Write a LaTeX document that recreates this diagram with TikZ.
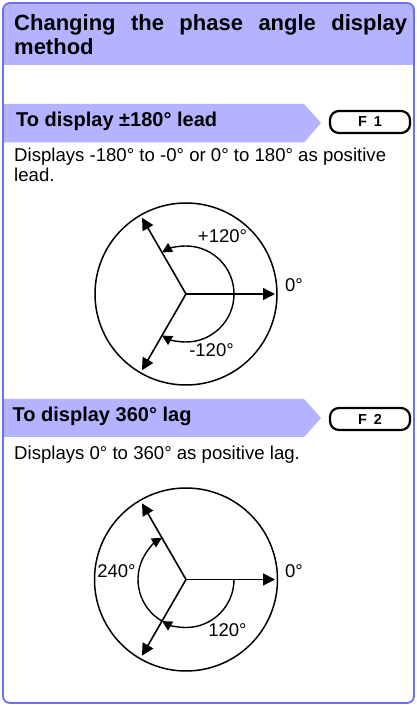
\documentclass[tikz,border=0pt]{standalone}
\usepackage{fontspec}
\setmainfont{Liberation Sans}
\usetikzlibrary{arrows.meta}
\definecolor{band}{RGB}{179,179,255}
\definecolor{frame}{RGB}{110,110,240}
\begin{document}
\begin{tikzpicture}[x=1pt,y=1pt,
 bigarrow/.style={line width=1.6pt,-{Triangle[length=12pt,width=12pt]}},
 arcarrow/.style={line width=1.4pt,-{Triangle[length=10pt,width=10pt]}},
 ring/.style={line width=1.5pt},
 lbl/.style={font=\fontsize{18.5}{20}\selectfont,anchor=base,inner sep=0pt},
 title/.style={font=\fontsize{22}{24}\selectfont\bfseries,anchor=base west,inner sep=0pt},
 hdr/.style={font=\fontsize{20}{22}\selectfont\bfseries,anchor=base west,inner sep=0pt},
 desc/.style={font=\fontsize{18.6}{20}\selectfont,anchor=base west,inner sep=0pt},
 fkey/.style={draw,line width=2.2pt,rounded corners=9pt,minimum width=80pt,minimum height=22pt,inner sep=0pt,font=\fontsize{14.5}{14.5}\selectfont\bfseries},
]
\useasboundingbox (0,0) rectangle (417,705);
\begin{scope}
\clip[rounded corners=7pt] (3,2) rectangle (414,702);
\fill[band] (0,640) rectangle (417,705);
\fill[band] (0,601) -- (304,601) -- (321,582) -- (304,562.5) -- (0,562.5) -- cycle;
\fill[band] (0,306) -- (304,306) -- (321,287) -- (304,268) -- (0,268) -- cycle;
\end{scope}
\draw[frame,line width=1.8pt,rounded corners=7pt] (3,2) rectangle (414,702);

% title
\node[title] (t1) at (14,674.5) {\hbox to 393pt{Changing\hfill the\hfill phase\hfill angle\hfill display}};
\node[title] (t2) at (14,650.5) {method};

% section 1
\node[hdr] (h1) at (16,578.8) {To display ±180° lead};
\node[fkey] (f1) at (370,583) {F\hspace{7pt}1};
\node[desc] (d1a) at (14,543.5) {Displays -180° to -0° or 0° to 180° as positive};
\node[desc] (d1b) at (14,523.5) {lead.};

\begin{scope}[shift={(186,411)}]
\coordinate (o1) at (0,0);
\coordinate (p1a) at (0:89);
\coordinate (p1b) at (120:88);
\coordinate (p1c) at (240:88);
\coordinate (r1) at (0:48);
\node[draw,ring,circle,minimum size=182pt,inner sep=0pt] (c1) at (0,0) {};
\draw[bigarrow] (o1) -- (p1a);
\draw[bigarrow] (o1) -- (p1b);
\draw[bigarrow] (o1) -- (p1c);
\draw[arcarrow] (r1) arc[start angle=0,end angle=120,radius=48];
\draw[arcarrow] (r1) arc[start angle=0,end angle=-120,radius=48];
\end{scope}
\node[lbl] (l1a) at (222.5,462) {+120°};
\node[lbl] (l1b) at (294,413) {0°};
\node[lbl] (l1c) at (211.5,348) {-120°};

% section 2
\node[hdr] (h2) at (12.5,283.3) {To display 360° lag};
\node[fkey] (f2) at (370,286) {F\hspace{7pt}2};
\node[desc] (d2) at (14,245.5) {Displays 0° to 360° as positive lag.};

\begin{scope}[shift={(186,125.5)}]
\coordinate (o2) at (0,0);
\coordinate (p2a) at (0:89);
\coordinate (p2b) at (120:88);
\coordinate (p2c) at (240:88);
\coordinate (r2) at (0:48);
\coordinate (s2) at (240:48);
\node[draw,ring,circle,minimum size=183pt,inner sep=0pt] (c2) at (0,0) {};
\draw[bigarrow] (o2) -- (p2a);
\draw[bigarrow] (o2) -- (p2b);
\draw[bigarrow] (o2) -- (p2c);
\draw[arcarrow] (s2) arc[start angle=240,end angle=120,radius=48];
\draw[arcarrow] (r2) arc[start angle=0,end angle=-120,radius=48];
\end{scope}
\node[lbl] (l2a) at (116.5,127) {240°};
\node[lbl] (l2b) at (294,127) {0°};
\node[lbl] (l2c) at (227.5,68) {120°};
\end{tikzpicture}
\end{document}
